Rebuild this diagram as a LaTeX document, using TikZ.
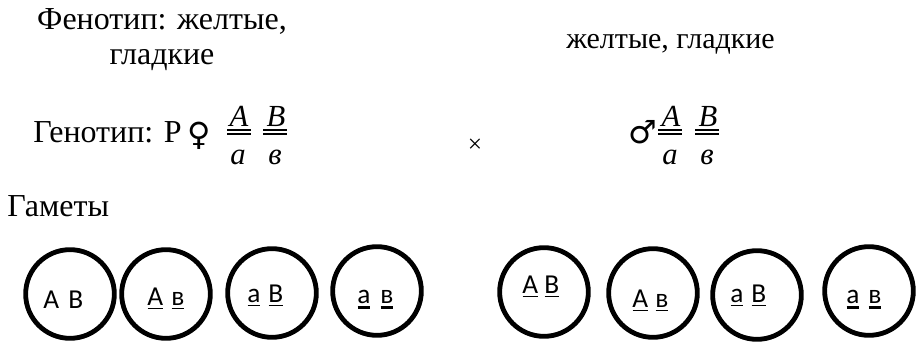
\documentclass[tikz,border=0pt]{standalone}
\usepackage{fontspec}
\setmainfont{Liberation Serif}
\newfontfamily\tnr{Liberation Serif}
\newfontfamily\calib{Carlito}
\newfontfamily\symf{DejaVu Sans}
\usetikzlibrary{calc}
\begin{document}
\begin{tikzpicture}[x=0.75pt,y=-0.75pt,
  txt/.style={font=\tnr\fontsize{24}{28}\selectfont, inner sep=0pt, anchor=base},
  itl/.style={font=\tnr\fontsize{23}{27}\selectfont\itshape, inner sep=0pt, anchor=base},
  sym/.style={font=\symf\fontsize{24}{28}\selectfont, inner sep=0pt, anchor=center},
  bar/.style={line width=0.9pt},
  gam/.style={draw, circle, line width=3.6pt, minimum size=66.5pt, inner sep=0pt},
  let/.style={font=\calib\fontsize{20.5}{24}\selectfont, inner sep=0pt, anchor=base west},
  ul/.style={line width=1.4pt},
  ulb/.style={line width=2.4pt}]
\useasboundingbox (0,0) rectangle (921,342);
% phenotype
\node[txt] (ph1) at (162,30) {Фенотип: желтые,};
\node[txt] (ph2) at (162,65) {гладкие};
\node[txt, anchor=base west, font=\tnr\fontsize{22.5}{26}\selectfont] (ph3) at (566,49) {желтые, гладкие};
% genotype
\node[txt, anchor=base west] (gen) at (33,143) {Генотип: Р};
\node[sym] (fem) at (199,136) {♀};
\node[itl] (n1) at (239,127) {A};
\node[itl] (d1) at (238,165) {a};
\node[itl] (n2) at (276,127) {B};
\node[itl] (d2) at (275,165) {в};
\coordinate (b1l) at (227,130); \coordinate (b1r) at (251,130);
\coordinate (b1l2) at (227,134); \coordinate (b1r2) at (251,134);
\coordinate (b2l) at (263,130); \coordinate (b2r) at (287,130);
\coordinate (b2l2) at (263,134); \coordinate (b2r2) at (287,134);
\draw[bar] (b1l) -- (b1r); \draw[bar] (b1l2) -- (b1r2);
\draw[bar] (b2l) -- (b2r); \draw[bar] (b2l2) -- (b2r2);
\node[font=\tnr\fontsize{19}{20}\selectfont, inner sep=0pt] (x) at (475,146) {×};
\node[sym] (mal) at (643,132) {♂};
\node[itl] (n3) at (671,127) {A};
\node[itl] (d3) at (670,165) {a};
\node[itl] (n4) at (708,127) {B};
\node[itl] (d4) at (707,165) {в};
\coordinate (b3l) at (658,130); \coordinate (b3r) at (682,130);
\coordinate (b3l2) at (658,134); \coordinate (b3r2) at (682,134);
\coordinate (b4l) at (695,130); \coordinate (b4r) at (719,130);
\coordinate (b4l2) at (695,134); \coordinate (b4r2) at (719,134);
\draw[bar] (b3l) -- (b3r); \draw[bar] (b3l2) -- (b3r2);
\draw[bar] (b4l) -- (b4r); \draw[bar] (b4l2) -- (b4r2);
% gametes
\node[txt, anchor=base west] (gam) at (7,217) {Гаметы};
\node[gam] (g1) at (70,294) {};
\node[gam] (g2) at (166,294) {};
\node[gam] (g3) at (272,293) {};
\node[gam] (g4) at (377,291) {};
\node[gam] (g5) at (544,292) {};
\node[gam] (g6) at (653,293) {};
\node[gam] (g7) at (757,295) {};
\node[gam] (g8) at (869,291) {};
% letters
\node[let] (c1a) at (43,308) {A};  \node[let] (c1b) at (68,308) {B};
\node[let] (c2a) at (147,305) {A}; \node[let] (c2b) at (171,305) {в};
\node[let] (c3a) at (247,302) {a}; \node[let] (c3b) at (268,302) {B};
\node[let] (c4a) at (357,303) {a}; \node[let] (c4b) at (380,303) {в};
\node[let] (c5a) at (522,293) {A}; \node[let] (c5b) at (544,293) {B};
\node[let] (c6a) at (632,307) {A}; \node[let] (c6b) at (655,307) {в};
\node[let] (c7a) at (730,302) {a}; \node[let] (c7b) at (751,302) {B};
\node[let] (c8a) at (846,303) {a}; \node[let] (c8b) at (868,303) {в};
\foreach \n in {c2a,c2b,c3a,c3b,c5a,c5b,c6a,c6b,c7a,c7b}
  \draw[ul] ($(\n.base west)+(0.5,3.5)$) -- ($(\n.base east)+(-0.5,3.5)$);
\foreach \n in {c4a,c4b,c8a,c8b}
  \draw[ulb] ($(\n.base west)+(0.5,4.5)$) -- ($(\n.base east)+(-0.5,4.5)$);
\end{tikzpicture}
\end{document}
